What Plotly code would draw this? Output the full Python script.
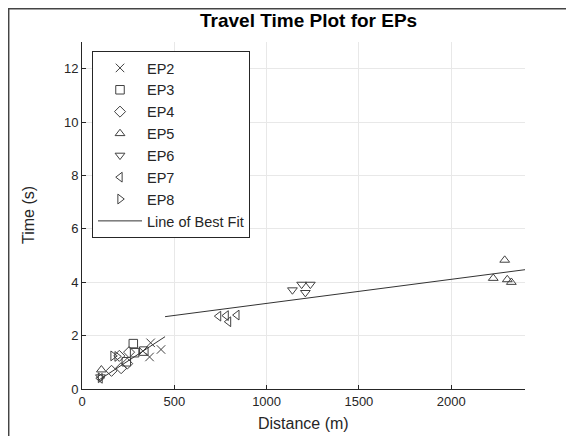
import plotly.graph_objects as go

# ---- data ----
ep2_x = [330, 372, 366, 428]
ep2_y = [1.42, 1.73, 1.20, 1.48]
ep3_x = [278, 285, 335, 240]
ep3_y = [1.70, 1.36, 1.42, 1.02]
ep4_x = [160, 212, 245, 202, 255]
ep4_y = [0.68, 0.78, 0.95, 1.24, 1.38]
ep5_x = [105, 2228, 2290, 2304, 2326]
ep5_y = [0.72, 4.15, 4.83, 4.10, 4.00]
ep6_x = [100, 1140, 1190, 1210, 1237]
ep6_y = [0.45, 3.71, 3.92, 3.61, 3.92]
ep7_x = [98, 740, 781, 794, 839]
ep7_y = [0.40, 2.73, 2.75, 2.52, 2.77]
ep8_x = [100, 168, 190]
ep8_y = [0.42, 1.24, 1.22]
fit1_x = [90, 450]
fit1_y = [0.33, 1.96]
fit2_x = [450, 2400]
fit2_y = [2.71, 4.47]

series = [
    ("EP2", ep2_x, ep2_y, "x-thin-open"),
    ("EP3", ep3_x, ep3_y, "square-open"),
    ("EP4", ep4_x, ep4_y, "diamond-open"),
    ("EP5", ep5_x, ep5_y, "triangle-up-open"),
    ("EP6", ep6_x, ep6_y, "triangle-down-open"),
    ("EP7", ep7_x, ep7_y, "triangle-left-open"),
    ("EP8", ep8_x, ep8_y, "triangle-right-open"),
]

W, H = 574, 436
OFF = 8  # page body margin
# target plot box in page pixels: left 82, top 42, right 525, bottom 389
L = 82 - OFF
T = 42 - OFF
R = W - (525 - OFF)
B = H - (389 - OFF)

ink = "#404040"

fig = go.Figure()
for name, xs, ys, sym in series:
    fig.add_trace(go.Scatter(
        x=xs, y=ys, mode="markers", name=name,
        marker=dict(symbol=sym, size=8.5, color=ink,
                    line=dict(color=ink, width=1)),
    ))
fig.add_trace(go.Scatter(x=fit1_x, y=fit1_y, mode="lines", name="Line of Best Fit",
                         line=dict(color="#333333", width=1), legendgroup="fit"))
fig.add_trace(go.Scatter(x=fit2_x, y=fit2_y, mode="lines", name="Line of Best Fit",
                         line=dict(color="#333333", width=1), legendgroup="fit",
                         showlegend=False))

pw = W - L - R
ph = H - T - B
def px(xp):  # page pixel -> paper x
    return (xp - OFF - L) / pw
def py(yp):  # page pixel -> paper y
    return (H - B - (yp - OFF)) / ph

fig.update_layout(
    width=W, height=H,
    margin=dict(l=L, r=R, t=T, b=B),
    paper_bgcolor="white", plot_bgcolor="white",
    font=dict(family="Liberation Sans, Arial, sans-serif", color="#262626", size=12),
    showlegend=True,
    legend=dict(x=px(92), y=py(51), xanchor="left", yanchor="top",
                bgcolor="white", bordercolor="#262626", borderwidth=1,
                font=dict(size=14.5, color="#262626"), tracegroupgap=0,
                itemwidth=44),
    xaxis=dict(range=[0, 2400], tickvals=[0, 500, 1000, 1500, 2000],
               showgrid=True, gridcolor="#e8e8e8", gridwidth=1,
               zeroline=False, showline=True, linecolor="#262626", linewidth=1,
               ticks="inside", ticklen=4, tickcolor="#262626",
               tickfont=dict(size=13), mirror=False),
    yaxis=dict(range=[0, 13], tickvals=[0, 2, 4, 6, 8, 10, 12],
               showgrid=True, gridcolor="#e8e8e8", gridwidth=1,
               zeroline=False, showline=True, linecolor="#262626", linewidth=1,
               ticks="inside", ticklen=4, tickcolor="#262626",
               tickfont=dict(size=13), mirror=False),
    annotations=[
        dict(text="<b>Travel Time Plot for EPs</b>", x=px(308), y=py(20),
             xref="paper", yref="paper", showarrow=False,
             font=dict(size=19, color="#000000"), xanchor="center", yanchor="middle"),
        dict(text="Distance (m)", x=px(303), y=py(423),
             xref="paper", yref="paper", showarrow=False,
             font=dict(size=16, color="#262626"), xanchor="center", yanchor="middle"),
        dict(text="Time (s)", x=px(28), y=py(215), textangle=-90,
             xref="paper", yref="paper", showarrow=False,
             font=dict(size=16, color="#262626"), xanchor="center", yanchor="middle"),
    ],
    shapes=[
        dict(type="line", xref="paper", yref="paper",
             x0=px(8.7), x1=px(8.7), y0=py(8), y1=py(440), line=dict(color="#444444", width=1.5)),
        dict(type="line", xref="paper", yref="paper",
             x0=px(8), x1=px(573), y0=py(8.7), y1=py(8.7), line=dict(color="#444444", width=1.5)),
        dict(type="line", xref="paper", yref="paper",
             x0=px(573), x1=px(573), y0=py(8), y1=py(440), line=dict(color="#444444", width=1.5)),
    ],
)

fig.write_html("out.html")
